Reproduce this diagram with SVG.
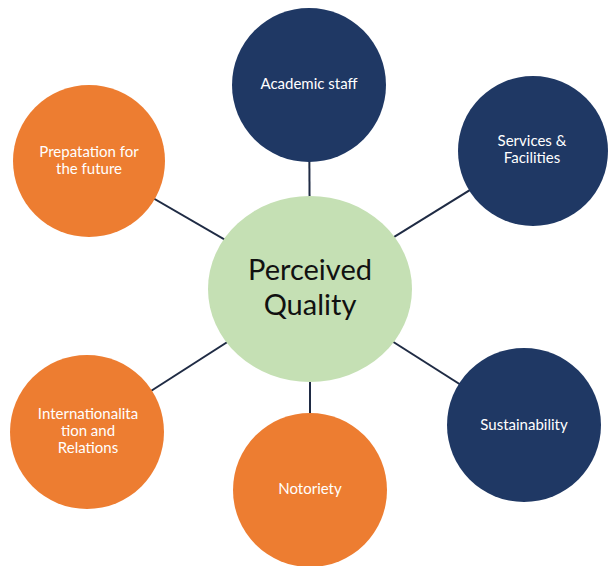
<svg xmlns="http://www.w3.org/2000/svg" width="610" height="566" viewBox="0 0 610 566">
  <style>
    .link { stroke: #1f2b44; stroke-width: 2; fill: none; }
    .navy { fill: #1f3864; }
    .orange { fill: #ed7d31; }
    .hub { fill: #c5e0b4; }
    .label { font-family: Lato, "Open Sans", sans-serif; font-size: 15px; fill: #ffffff; text-anchor: middle; }
    .hub-label { font-family: Lato, "Open Sans", sans-serif; font-size: 29px; fill: #111111; text-anchor: middle; }
  </style>
  <rect width="610" height="566" fill="#ffffff"/>

  <!-- spokes from the hub to each factor -->
  <g id="connectors">
    <line class="link" x1="310" y1="289" x2="309" y2="85"/>
    <line class="link" x1="310" y1="289" x2="533" y2="151"/>
    <line class="link" x1="310" y1="289" x2="524" y2="425"/>
    <line class="link" x1="310" y1="289" x2="310" y2="490"/>
    <line class="link" x1="310" y1="289" x2="87" y2="432"/>
    <line class="link" x1="310" y1="289" x2="89" y2="161"/>
  </g>

  <g id="hub">
    <ellipse class="hub" cx="310" cy="289" rx="102" ry="93"/>
    <text class="hub-label" x="310" y="280">Perceived</text>
    <text class="hub-label" x="310" y="315">Quality</text>
  </g>

  <g id="academic-staff">
    <circle class="navy" cx="309" cy="85" r="77"/>
    <text class="label" x="309" y="89">Academic staff</text>
  </g>

  <g id="services-facilities">
    <circle class="navy" cx="533" cy="151" r="75"/>
    <text class="label" x="532" y="146">Services &amp;</text>
    <text class="label" x="532" y="163">Facilities</text>
  </g>

  <g id="sustainability">
    <circle class="navy" cx="524" cy="425" r="77"/>
    <text class="label" x="524" y="430">Sustainability</text>
  </g>

  <g id="notoriety">
    <circle class="orange" cx="310" cy="490" r="77"/>
    <text class="label" x="310" y="494">Notoriety</text>
  </g>

  <g id="internationalitation">
    <circle class="orange" cx="87" cy="432" r="77"/>
    <text class="label" x="88" y="419">Internationalita</text>
    <text class="label" x="88" y="436">tion and</text>
    <text class="label" x="88" y="453">Relations</text>
  </g>

  <g id="preparation">
    <circle class="orange" cx="89" cy="161" r="76"/>
    <text class="label" x="89" y="157">Prepatation for</text>
    <text class="label" x="89" y="174">the future</text>
  </g>
</svg>
